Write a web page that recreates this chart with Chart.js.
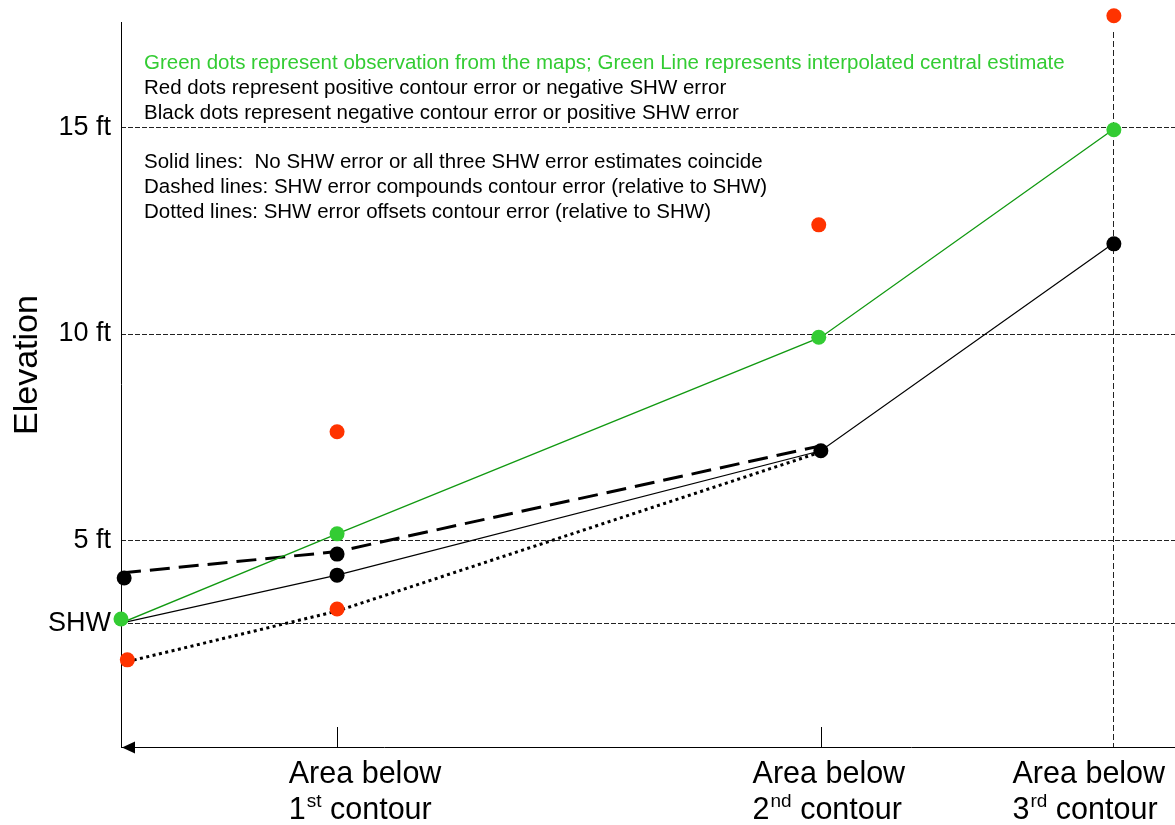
<!DOCTYPE html>
<html>
<head>
<meta charset="utf-8">
<script src="https://cdn.jsdelivr.net/npm/chart.js@4.4.0/dist/chart.umd.min.js"></script>
<style>
  html, body { margin: 0; padding: 0; background: #fff; }
  canvas { display: block; }
</style>
</head>
<body>
<canvas id="chart" width="1175" height="825"></canvas>
<script>
// horizontal positions (arbitrary units, 0 = shoreline / SHW)
const contourX = [0, 2.05, 6.64, 9.41];
const contourNames = [['1', 'st'], ['2', 'nd'], ['3', 'rd']];

// elevation ticks
const yTicks = [3, 5, 10, 15];
const yTickLabels = ['SHW', '5 ft', '10 ft', '15 ft'];

// lines
const greenLineY = [3.0, 5.16, 9.92, 14.94];
const solidLineY = [3.0, 4.16, 7.17, 12.18];
const dashedX = [0, 2.05, 6.64];
const dashedY = [4.21, 4.73, 7.29];
const dottedX = [0, 2.05, 6.64];
const dottedY = [2.03, 3.29, 7.14];

// dots
const greenDotsX = [0, 2.05, 6.62, 9.42];
const greenDotsY = [3.10, 5.16, 9.92, 14.94];
const redDotsX = [0.06, 2.05, 2.05, 6.62, 9.42];
const redDotsY = [2.11, 3.34, 7.63, 12.64, 17.70];
const blackDotsX = [0.03, 2.05, 2.05, 6.64, 9.42];
const blackDotsY = [4.09, 4.67, 4.16, 7.17, 12.18];

const notes = [
  ['Green dots represent observation from the maps; Green Line represents interpolated central estimate', '#33cc33'],
  ['Red dots represent positive contour error or negative SHW error', '#000'],
  ['Black dots represent negative contour error or positive SHW error', '#000'],
  null,
  ['Solid lines:  No SHW error or all three SHW error estimates coincide', '#000'],
  ['Dashed lines: SHW error compounds contour error (relative to SHW)', '#000'],
  ['Dotted lines: SHW error offsets contour error (relative to SHW)', '#000']
];

const FONT = '"Liberation Sans", Arial, sans-serif';
const pts = (xs, ys) => xs.map((x, i) => ({ x: x, y: ys[i] }));

const GREEN = '#33cc33';
const RED = '#ff3300';

function line(xs, ys, color, width, dash) {
  return {
    type: 'line', data: pts(xs, ys), borderColor: color, borderWidth: width,
    borderDash: dash, pointRadius: 0, fill: false, tension: 0, order: 2
  };
}
function dots(xs, ys, color) {
  return {
    type: 'scatter', data: pts(xs, ys), backgroundColor: color, borderColor: color,
    pointRadius: 7.5, pointBorderWidth: 0, clip: false, order: 1
  };
}

const decorations = {
  id: 'decorations',
  beforeDatasetsDraw(chart) {
    const { ctx, chartArea: a, scales: { x, y } } = chart;
    ctx.save();
    // dashed horizontal grid lines
    ctx.strokeStyle = '#222';
    ctx.lineWidth = 1;
    ctx.setLineDash([5, 2]);
    yTicks.forEach(v => {
      const py = Math.round(y.getPixelForValue(v)) + 0.5;
      ctx.beginPath(); ctx.moveTo(a.left, py); ctx.lineTo(a.right, py); ctx.stroke();
    });
    // dashed vertical at 3rd contour
    ctx.setLineDash([6, 3]);
    const vx = Math.round(x.getPixelForValue(contourX[3])) + 0.5;
    ctx.beginPath(); ctx.moveTo(vx, a.top + 10); ctx.lineTo(vx, a.bottom); ctx.stroke();
    ctx.setLineDash([]);
    // tick marks at 1st and 2nd contour
    ctx.strokeStyle = '#000';
    [contourX[1], contourX[2]].forEach(v => {
      const px = Math.round(x.getPixelForValue(v)) + 0.5;
      ctx.beginPath(); ctx.moveTo(px, a.bottom - 20); ctx.lineTo(px, a.bottom); ctx.stroke();
    });
    // axes
    ctx.beginPath();
    ctx.moveTo(a.left + 0.5, a.top); ctx.lineTo(a.left + 0.5, a.bottom);
    ctx.moveTo(a.left, a.bottom + 0.5); ctx.lineTo(a.right, a.bottom + 0.5);
    ctx.stroke();
    ctx.fillStyle = '#000';
    ctx.beginPath();
    ctx.moveTo(a.left + 1, a.bottom + 0.5);
    ctx.lineTo(a.left + 14, a.bottom - 5.5);
    ctx.lineTo(a.left + 14, a.bottom + 6.5);
    ctx.closePath(); ctx.fill();

    // notes
    ctx.font = '20.5px ' + FONT;
    ctx.textAlign = 'left';
    ctx.textBaseline = 'alphabetic';
    notes.forEach((n, i) => {
      if (!n) return;
      ctx.fillStyle = n[1];
      ctx.fillText(n[0], a.left + 23, 69 + i * 24.8);
    });

    // y title
    ctx.save();
    ctx.fillStyle = '#000';
    ctx.font = '34px ' + FONT;
    ctx.translate(37, 365);
    ctx.rotate(-Math.PI / 2);
    ctx.textAlign = 'center';
    ctx.fillText('Elevation', 0, 0);
    ctx.restore();

    // x labels with superscripts
    const offsets = [28, 8, -24];
    contourNames.forEach((nm, i) => {
      const cx = x.getPixelForValue(contourX[i + 1]) + offsets[i];
      ctx.font = '30.5px ' + FONT;
      const w1 = ctx.measureText('Area below').width;
      const left = cx - w1 / 2;
      ctx.fillStyle = '#000';
      ctx.fillText('Area below', left, a.bottom + 36);
      ctx.fillText(nm[0], left, a.bottom + 72);
      const wn = ctx.measureText(nm[0]).width;
      ctx.font = '19px ' + FONT;
      ctx.fillText(nm[1], left + wn + 1, a.bottom + 60);
      const ws = ctx.measureText(nm[1]).width;
      ctx.font = '30.5px ' + FONT;
      ctx.fillText(' contour', left + wn + ws + 1, a.bottom + 72);
    });
    ctx.restore();
  }
};

new Chart(document.getElementById('chart'), {
  type: 'scatter',
  data: {
    datasets: [
      dots(greenDotsX, greenDotsY, GREEN),
      dots(redDotsX, redDotsY, RED),
      dots(blackDotsX, blackDotsY, '#000'),
      line(contourX, greenLineY, '#119911', 1.3, []),
      line(contourX, solidLineY, '#000', 1.2, []),
      line(dashedX, dashedY, '#000', 3, [20, 9]),
      line(dottedX, dottedY, '#000', 3, [3, 3.5])
    ]
  },
  options: {
    responsive: false,
    devicePixelRatio: 1,
    animation: false,
    layout: { autoPadding: false, padding: { top: 22, right: 0, left: 0, bottom: 0 } },
    plugins: { legend: { display: false }, tooltip: { enabled: false } },
    scales: {
      x: {
        type: 'linear', min: 0, max: 10,
        grid: { display: false, drawTicks: false },
        border: { display: false },
        ticks: { display: false },
        afterFit: s => { s.height = 78; s.paddingLeft = 0; s.paddingRight = 0; }
      },
      y: {
        type: 'linear', min: 0, max: 17.55,
        grid: { display: false, drawTicks: false },
        border: { display: false },
        afterBuildTicks: s => { s.ticks = yTicks.map(v => ({ value: v })); },
        ticks: {
          padding: 10,
          color: '#000',
          font: { size: 27, family: FONT },
          callback: v => yTickLabels[yTicks.indexOf(v)]
        },
        afterFit: s => { s.width = 121; s.paddingTop = 0; s.paddingBottom = 0; }
      }
    }
  },
  plugins: [decorations]
});
</script>
</body>
</html>
